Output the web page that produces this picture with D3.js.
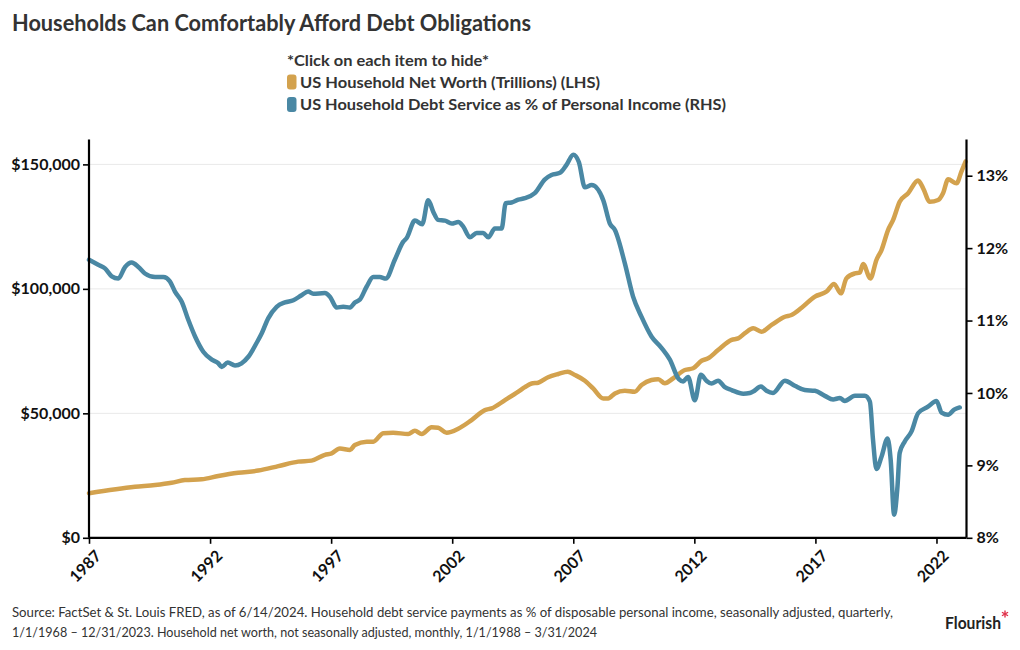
<!DOCTYPE html>
<html>
<head>
<meta charset="utf-8">
<script src="https://cdn.jsdelivr.net/npm/d3@7"></script>
<style>
  html, body { margin: 0; padding: 0; background: #fff; }
  svg { display: block; font-family: Lato, "Open Sans", sans-serif; }
</style>
</head>
<body>
<svg id="chart" width="1020" height="650"></svg>
<script>
// ---- Data ----
const title = "Households Can Comfortably Afford Debt Obligations";
const legendHeader = "*Click on each item to hide*";
const seriesNames = ["US Household Net Worth (Trillions) (LHS)", "US Household Debt Service as % of Personal Income (RHS)"];
const seriesColors = ["#d3a24e", "#4a88a4"];

const xTickYears = [1987, 1992, 1997, 2002, 2007, 2012, 2017, 2022];
const leftTicks = [0, 50000, 100000, 150000];
const rightTicks = [8, 9, 10, 11, 12, 13];

const netWorthYears = [1987.00,1988.90,1989.73,1990.41,1990.96,1991.65,1992.34,1993.16,1993.99,1994.82,1995.64,1996.19,1996.74,1997.02,1997.36,1997.78,1997.98,1998.47,1998.74,1999.15,1999.56,2000.18,2000.46,2000.74,2001.15,2001.42,2001.77,2002.25,2002.80,2003.35,2003.63,2004.18,2004.73,2005.00,2005.28,2005.55,2005.96,2006.38,2006.77,2007.07,2007.48,2007.82,2008.24,2008.44,2008.72,2009.13,2009.54,2009.82,2010.23,2010.51,2010.78,2011.13,2011.61,2011.95,2012.30,2012.57,2012.98,2013.54,2013.81,2014.09,2014.43,2014.77,2015.19,2015.74,2016.01,2016.43,2016.98,2017.46,2017.77,2018.05,2018.28,2018.63,2018.83,2018.97,2019.27,2019.52,2019.73,2020.00,2020.21,2020.48,2020.83,2021.24,2021.45,2021.72,2022.07,2022.27,2022.48,2022.83,2023.03,2023.20];
const netWorthValues = [17900,20500,21200,22100,23200,23500,24800,26100,27000,28800,30600,31000,33300,33900,35900,35300,37300,38600,38600,42000,42200,41700,43000,41700,44400,44200,42200,43800,47300,51300,52000,55300,58700,60500,62000,62300,64500,65800,66700,65400,63100,60000,56000,56000,58000,59100,58700,61400,63400,63700,62100,64100,67400,68100,71100,72100,75400,79500,80100,82200,84200,82800,85500,88800,89500,92400,96900,98900,102000,98200,104200,106200,106500,110000,104200,111600,115600,123600,127700,135000,138400,143500,140400,135000,135700,138400,144000,142400,147100,151100];

const debtYears = [1987.00,1987.38,1987.66,1987.94,1988.21,1988.49,1988.76,1989.04,1989.31,1989.73,1990.07,1990.34,1990.55,1990.83,1991.10,1991.38,1991.72,1992.07,1992.34,1992.48,1992.73,1993.03,1993.30,1993.58,1993.92,1994.13,1994.40,1994.75,1995.09,1995.44,1995.78,1996.05,1996.26,1996.74,1996.95,1997.23,1997.50,1997.78,1997.98,1998.19,1998.47,1998.74,1999.01,1999.26,1999.63,1999.98,2000.12,2000.46,2000.76,2001.01,2001.22,2001.42,2001.70,2001.98,2002.25,2002.45,2002.73,2003.01,2003.28,2003.49,2003.76,2004.04,2004.21,2004.45,2004.73,2005.00,2005.41,2005.83,2006.10,2006.45,2006.72,2007.00,2007.23,2007.48,2007.76,2008.24,2008.51,2008.72,2009.13,2009.47,2009.82,2010.23,2010.65,2010.99,2011.36,2011.54,2011.74,2012.02,2012.27,2012.50,2012.71,2012.98,2013.26,2013.54,2014.02,2014.29,2014.43,2014.75,2014.98,2015.25,2015.74,2016.15,2016.56,2016.98,2017.39,2017.73,2018.01,2018.21,2018.63,2019.04,2019.25,2019.38,2019.52,2019.73,2019.98,2020.11,2020.25,2020.39,2020.48,2020.69,2020.97,2021.24,2021.65,2022.00,2022.21,2022.48,2022.73,2022.96];
const debtValues = [11.84,11.77,11.72,11.61,11.58,11.74,11.80,11.74,11.65,11.60,11.60,11.54,11.40,11.26,11.01,10.78,10.57,10.46,10.41,10.36,10.42,10.38,10.41,10.50,10.69,10.82,11.03,11.19,11.25,11.28,11.35,11.40,11.37,11.38,11.33,11.18,11.19,11.18,11.25,11.29,11.47,11.60,11.60,11.58,11.84,12.09,12.14,12.38,12.33,12.66,12.50,12.39,12.38,12.34,12.36,12.30,12.15,12.21,12.21,12.15,12.27,12.27,12.62,12.63,12.67,12.69,12.76,12.95,13.01,13.04,13.15,13.29,13.19,12.84,12.87,12.66,12.34,12.25,11.79,11.33,11.05,10.78,10.62,10.46,10.19,10.16,10.22,9.90,10.25,10.17,10.13,10.17,10.08,10.04,9.99,10.00,10.02,10.09,10.03,10.00,10.17,10.10,10.04,10.03,9.96,9.91,9.93,9.89,9.96,9.96,9.88,9.35,8.95,9.12,9.37,9.07,8.32,8.71,9.17,9.33,9.47,9.72,9.81,9.89,9.73,9.70,9.77,9.80];

const footerLines = [
  "Source: FactSet & St. Louis FRED, as of 6/14/2024. Household debt service payments as % of disposable personal income, seasonally adjusted, quarterly,",
  "1/1/1968 \u2013 12/31/2023. Household net worth, not seasonally adjusted, monthly, 1/1/1988 \u2013 3/31/2024"
];

// ---- Layout ----
const svg = d3.select("#chart");
const plot = { left: 89, right: 966.5, top: 139.5, bottom: 537.8 };

const x = d3.scaleLinear().domain([1987, 2023.24]).range([plot.left, plot.right]);
const yL = d3.scaleLinear().domain([0, 160000]).range([plot.bottom, plot.top]);
const yR = d3.scaleLinear().domain([8, 13.5]).range([plot.bottom, plot.top]);

function fit(sel, w) {
  sel.attr("textLength", w).attr("lengthAdjust", "spacingAndGlyphs");
  return sel;
}

// Title
fit(svg.append("text").attr("x", 12).attr("y", 31)
  .attr("font-size", 22).attr("font-weight", 700).attr("fill", "#333")
  .text(title), 519);

// Legend
fit(svg.append("text").attr("x", 287).attr("y", 66)
  .attr("font-size", 16).attr("font-weight", 700).attr("fill", "#333")
  .text(legendHeader), 202);
const legendW = [300, 426];
seriesNames.forEach((name, i) => {
  const yy = 82 + i * 22.5;
  svg.append("rect").attr("x", 287).attr("y", yy - 7.5).attr("width", 9.5).attr("height", 15)
    .attr("rx", 3).attr("fill", seriesColors[i]);
  fit(svg.append("text").attr("x", 300).attr("y", yy + 5.5)
    .attr("font-size", 16).attr("font-weight", 700).attr("fill", "#333")
    .text(name), legendW[i]);
});

// Gridlines
svg.append("g").selectAll("line").data(leftTicks.filter(d => d > 0)).join("line")
  .attr("x1", plot.left).attr("x2", plot.right)
  .attr("y1", d => yL(d)).attr("y2", d => yL(d))
  .attr("stroke", "#e9e9e9").attr("stroke-width", 1);

// Lines
const lineNW = d3.line().x(d => x(d[0])).y(d => yL(d[1])).curve(d3.curveMonotoneX);
const lineDS = d3.line().x(d => x(d[0])).y(d => yR(d[1])).curve(d3.curveMonotoneX);
svg.append("path").datum(netWorthYears.map((yr, i) => [yr, netWorthValues[i]]))
  .attr("d", lineNW).attr("fill", "none").attr("stroke", seriesColors[0])
  .attr("stroke-width", 4.5).attr("stroke-linejoin", "round").attr("stroke-linecap", "round");
svg.append("path").datum(debtYears.map((yr, i) => [yr, debtValues[i]]))
  .attr("d", lineDS).attr("fill", "none").attr("stroke", seriesColors[1])
  .attr("stroke-width", 4.5).attr("stroke-linejoin", "round").attr("stroke-linecap", "round");

// Axes
const fmtMoney = d => "$" + d3.format(",")(d);
const axL = svg.append("g").attr("transform", `translate(${plot.left},0)`)
  .call(d3.axisLeft(yL).tickValues(leftTicks).tickFormat(fmtMoney).tickSize(6).tickPadding(3));
const axR = svg.append("g").attr("transform", `translate(${plot.right},0)`)
  .call(d3.axisRight(yR).tickValues(rightTicks).tickFormat(d => d + "%").tickSize(6).tickPadding(4));
const axB = svg.append("g").attr("transform", `translate(0,${plot.bottom})`)
  .call(d3.axisBottom(x).tickValues(xTickYears).tickFormat(d3.format("d")).tickSize(6).tickPadding(3));

[axL, axR, axB].forEach(g => {
  g.select(".domain").attr("stroke", "#000").attr("stroke-width", 2.2);
  g.selectAll(".tick line").attr("stroke", "#000").attr("stroke-width", 1.6);
  g.selectAll(".tick text").attr("fill", "#111").attr("font-size", 16)
    .attr("font-weight", 700).attr("font-family", "Lato, sans-serif");
});
axL.select(".domain").attr("d", `M0,${plot.top}V${plot.bottom}`);
axR.select(".domain").attr("d", `M0,${plot.top}V${plot.bottom}`);
axB.select(".domain").attr("d", `M${plot.left},0H${plot.right}`);
axB.selectAll(".tick text")
  .attr("text-anchor", "end")
  .attr("transform", "translate(3,7) rotate(-45)")
  .attr("dy", "0.6em").attr("dx", "-0.1em").attr("y", 6);

// Footer
const footW = [881, 585];
footerLines.forEach((t, i) => {
  fit(svg.append("text").attr("x", 12).attr("y", 617 + i * 19.5)
    .attr("font-size", 13).attr("fill", "#333").text(t), footW[i]);
});

// Flourish mark
fit(svg.append("text").attr("x", 945).attr("y", 629)
  .attr("font-size", 17).attr("font-weight", 700).attr("fill", "#222")
  .text("Flourish"), 56);
// small red asterisk drawn as a shape
const ast = svg.append("g").attr("transform", "translate(1005,614)")
  .attr("stroke", "#e0324b").attr("stroke-width", 1.4).attr("stroke-linecap", "round");
[0, 60, 120].forEach(a => {
  ast.append("line").attr("x1", 0).attr("y1", -3).attr("x2", 0).attr("y2", 3)
    .attr("transform", `rotate(${a})`);
});
</script>
</body>
</html>
